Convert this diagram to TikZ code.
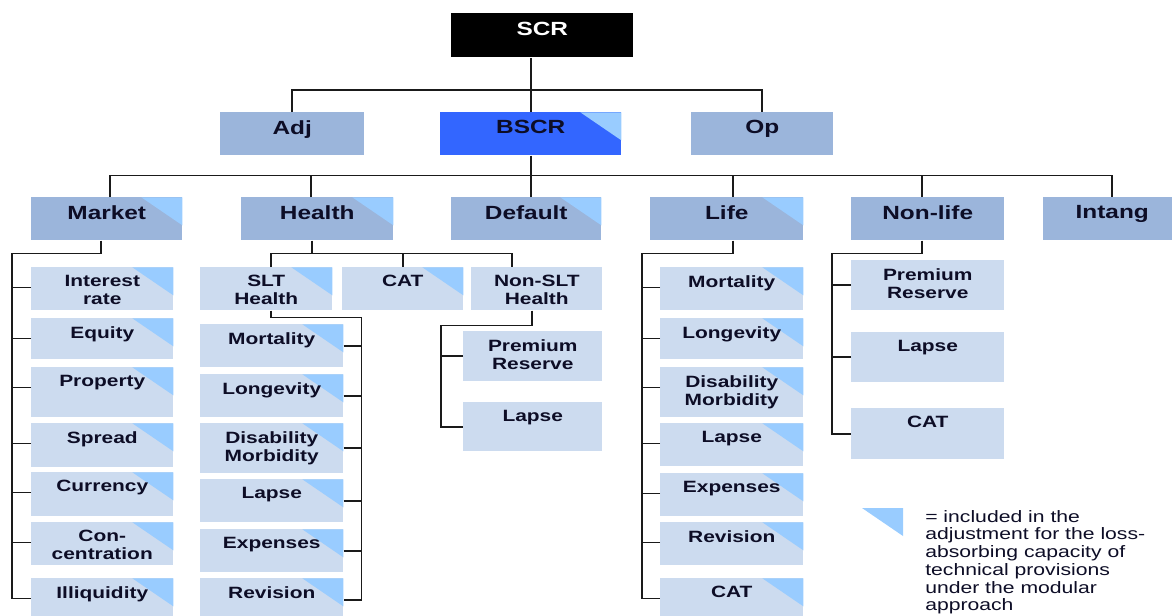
\documentclass[tikz,border=0pt]{standalone}
\usepackage{fontspec}
\setmainfont{Liberation Sans}[FakeStretch=1.28]
\definecolor{ink}{HTML}{0D0D26}
\definecolor{wirecol}{HTML}{1A1A1A}
\definecolor{midblue}{HTML}{9BB5DB}
\definecolor{subblue}{HTML}{CCDBEF}
\definecolor{bscrblue}{HTML}{3366FF}
\definecolor{triblue}{HTML}{99CCFF}
\tikzset{
	box/.style={anchor=north west, inner sep=0pt, minimum height=32.25pt},
	wd/.style={minimum width=#1*0.75pt},
	ht/.style={minimum height=#1*0.75pt},
	mid/.style={box, fill=midblue},
	sub/.style={box, fill=subblue},
	lacmark/.style={path picture={\fill[triblue] (path picture bounding box.north east) -- ++(-41,0) -- ++(41,28) -- cycle;}},
	nomark/.style={},
	lbl/.style={anchor=north, inner sep=0pt, align=center, text=ink, font=\fontsize{12.25}{13.5}\selectfont\bfseries, yshift=-6pt},
	head/.style={lbl, font=\fontsize{14.3}{16}\selectfont\bfseries},
	note/.style={anchor=north west, inner sep=0pt, align=left, text=ink, font=\fontsize{12.4}{13.3}\selectfont},
	wire/.style={draw=wirecol, line width=1.4pt},
}
\begin{document}
\begin{tikzpicture}[x=0.75pt, y=-0.75pt]
	\useasboundingbox (0,0) rectangle (1172,615);
	\node[box, wd=182, ht=44, fill=black] (scr) at (451,13) {};
	\node[head, text=white, yshift=-0.75pt] (scr-t) at (scr.north) {SCR};
	\node[mid, wd=144] (adj) at (220,112) {};
	\node[head] (adj-t) at (adj.north) {Adj};
	\node[box, wd=181, fill=bscrblue, lacmark] (bscr) at (440,112) {};
	\node[head] (bscr-t) at (bscr.north) {BSCR};
	\node[mid, wd=142] (op) at (691,112) {};
	\node[head] (op-t) at (op.north) {Op};
	\foreach \n/\x/\w/\m/\t in {mkt/31/151/lacmark/Market, hlt/241/152/lacmark/Health, dft/451/150/lacmark/Default, life/650/153/lacmark/Life, nlf/851/153/nomark/Non-life, itg/1043/138/nomark/Intang}
	{
		\node[mid, wd=\w, \m] (\n) at (\x,197) {};
		\node[head] (\n-t) at (\n.north) {\t};
	}
	\foreach \i/\y/\h/\t in {1/267/43/{Interest\\rate}, 2/318/41/Equity, 3/367/50/Property, 4/423/44/Spread, 5/472/44/Currency, 6/522/43/{Con-\\centration}, 7/578/43/Illiquidity}
	{
		\node[sub, wd=142, ht=\h, lacmark] (mk\i) at (31,\y) {};
		\node[lbl] (mk\i-t) at (mk\i.north) {\t};
	}
	\node[sub, wd=132, lacmark] (slt) at (200,267) {};
	\node[lbl] (slt-t) at (slt.north) {SLT\\Health};
	\node[sub, wd=121, lacmark] (cat) at (342,267) {};
	\node[lbl] (cat-t) at (cat.north) {CAT};
	\node[sub, wd=131] (nslt) at (471,267) {};
	\node[lbl] (nslt-t) at (nslt.north) {Non-SLT\\Health};
	\foreach \i/\y/\h/\t in {1/324/43/Mortality, 2/374/43/Longevity, 3/423/50/{Disability\\Morbidity}, 4/479/43/Lapse, 5/529/43/Expenses, 6/578/43/Revision}
	{
		\node[sub, wd=143, ht=\h, lacmark] (sh\i) at (200,\y) {};
		\node[lbl] (sh\i-t) at (sh\i.north) {\t};
	}
	\node[sub, wd=139, ht=50] (ns1) at (463,331) {};
	\node[lbl] (ns1-t) at (ns1.north) {Premium\\Reserve};
	\node[sub, wd=139, ht=49] (ns2) at (463,402) {};
	\node[lbl] (ns2-t) at (ns2.north) {Lapse};
	\foreach \i/\y/\h/\t in {1/267/43/Mortality, 2/318/41/Longevity, 3/367/50/{Disability\\Morbidity}, 4/423/43/Lapse, 5/473/43/Expenses, 6/522/43/Revision, 7/578/43/CAT}
	{
		\node[sub, wd=143, ht=\h, lacmark] (lf\i) at (660,\y) {};
		\node[lbl] (lf\i-t) at (lf\i.north) {\t};
	}
	\foreach \i/\y/\h/\t in {1/260/50/{Premium\\Reserve}, 2/332/50/Lapse, 3/408/51/CAT}
	{
		\node[sub, wd=153, ht=\h] (nl\i) at (851,\y) {};
		\node[lbl] (nl\i-t) at (nl\i.north) {\t};
	}
	\draw[wire] (bscr.north) -- (bscr.north |- scr.south);
	\draw[wire] (adj.north) -- ++(0,-22) -| (op.north);
	\draw[wire] (bscr.south) -- ++(0,20) coordinate (hub);
	\draw[wire] ([xshift=2.6pt]mkt.north) |- (hub) -| (itg.north);
	\foreach \n/\s in {hlt/-4.5pt, dft/3.75pt, life/4.9pt, nlf/-4.1pt}
		\draw[wire] ([xshift=\s]\n.north) -- ++(0,-22);
	\draw[wire] ([xshift=-4.1pt]mkt.south) -- ++(0,13) -| ([xshift=-14.25pt,yshift=-15.4pt]mk7.north west) -- ([yshift=-15.4pt]mk7.north west);
	\foreach \i in {1,...,6}
		\draw[wire] ([yshift=-15.4pt]mk\i.north west) -- ++(-19,0);
	\draw[wire] ([xshift=-3.75pt]hlt.south) -- ++(0,13) coordinate (hhub);
	\draw[wire] ([xshift=3.75pt]slt.north) |- (hhub) -| ([xshift=-18.4pt]nslt.north);
	\draw[wire] (cat.north) -- ++(0,-14);
	\draw[wire] ([xshift=3.75pt]slt.south) -- ++(0,7) -| ([xshift=13.5pt]sh6.east) -- (sh6.east);
	\foreach \i in {1,...,5}
		\draw[wire] (sh\i.east) -- ++(18,0);
	\draw[wire] ([xshift=-3.4pt]nslt.south) -- ++(0,15) -| ([xshift=-16.5pt]ns2.west) -- (ns2.west);
	\draw[wire] (ns1.west) -- ++(-22,0);
	\draw[wire] ([xshift=4.9pt]life.south) -- ++(0,13) -| ([xshift=-13.5pt,yshift=-15.4pt]lf7.north west) -- ([yshift=-15.4pt]lf7.north west);
	\foreach \i in {1,...,6}
		\draw[wire] ([yshift=-15.4pt]lf\i.north west) -- ++(-18,0);
	\draw[wire] ([xshift=-4.1pt]nlf.south) -- ++(0,13) -| ([xshift=-14.25pt]nl3.west) -- (nl3.west);
	\foreach \i in {1,2}
		\draw[wire] (nl\i.west) -- ++(-19,0);
	\fill[triblue] (862,508) -- (903,508) -- (903,536) -- cycle;
	\node[note] (legend) at (925,510) {= included in the\\adjustment for the loss-\\absorbing capacity of\\technical provisions\\under the modular\\approach};
\end{tikzpicture}
\end{document}
